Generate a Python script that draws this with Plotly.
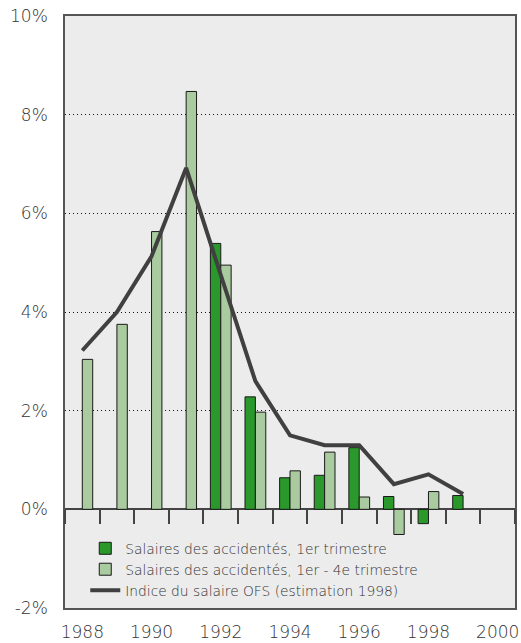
import plotly.graph_objects as go

years = [1988, 1989, 1990, 1991, 1992, 1993, 1994, 1995, 1996, 1997, 1998, 1999]
q1 = [None, None, None, None, 5.39, 2.28, 0.64, 0.69, 1.25, 0.26, -0.29, 0.28]
q1_4 = [3.04, 3.75, 5.63, 8.47, 4.95, 1.97, 0.78, 1.16, 0.25, -0.51, 0.36, None]
ofs = [3.22, 4.0, 5.13, 6.92, 4.75, 2.6, 1.5, 1.3, 1.3, 0.51, 0.71, 0.31]

names = ["Salaires des accidentés, 1er trimestre",
         "Salaires des accidentés, 1er - 4e trimestre",
         "Indice du salaire OFS (estimation 1998)"]

y_ticks = [-2, 0, 2, 4, 6, 8, 10]
y_ticklabels = ["-2%", "0%", "2%", "4%", "6%", "8%", "10%"]
x_ticks = [1988, 1990, 1992, 1994, 1996, 1998, 2000]
x_ticklabels = ["1988", "1990", "1992", "1994", "1996", "1998", "2000"]
x_range = [1987.5, 2000.5]
y_range = [-2, 10]
minor_ticks = [x_range[0] + i for i in range(int(x_range[1] - x_range[0]) + 1)]

FONT = "DejaVu Sans"
TXT = "#333333"

fig = go.Figure()
fig.add_trace(go.Bar(x=years, y=q1, name=names[0],
                     marker=dict(color="#2a982a", line=dict(color="#1a1a1a", width=1))))
fig.add_trace(go.Bar(x=years, y=q1_4, name=names[1],
                     marker=dict(color="#aacb9f", line=dict(color="#1a1a1a", width=1))))
fig.add_trace(go.Scatter(x=years, y=ofs, name=names[2], mode="lines",
                         line=dict(color="#404040", width=4)))

zero_pos = (0 - y_range[0]) / (y_range[1] - y_range[0])

fig.update_layout(
    width=521, height=643,
    margin=dict(l=65, r=6, t=16, b=35),
    paper_bgcolor="white",
    plot_bgcolor="#ececec",
    barmode="group", bargap=0.4, bargroupgap=0,
    font=dict(family=FONT, color=TXT, weight=200),
    showlegend=True,
    legend=dict(x=0.045, y=0.127, xanchor="left", yanchor="top",
                bgcolor="rgba(0,0,0,0)", font=dict(size=13.8, color=TXT, weight=200),
                itemwidth=30, tracegroupgap=0),
    xaxis=dict(range=x_range, tickvals=x_ticks, ticktext=x_ticklabels,
               ticks="outside", ticklen=8, tickcolor="rgba(0,0,0,0)",
               tickfont=dict(size=17, weight=200), showgrid=False, zeroline=False,
               automargin=False,
               showline=True, linecolor="#555555", linewidth=1.5, mirror=True),
    xaxis2=dict(range=x_range, overlaying="x", anchor="free", position=zero_pos,
                side="bottom", tickvals=minor_ticks, showticklabels=False,
                ticks="outside", ticklen=14, tickwidth=1.5, tickcolor="#444444",
                showgrid=False, zeroline=False, showline=False, automargin=False),
    yaxis=dict(range=y_range, tickvals=y_ticks, ticktext=y_ticklabels,
               ticks="outside", ticklen=12, tickcolor="rgba(0,0,0,0)",
               tickfont=dict(size=17, weight=200), showgrid=True, gridcolor="#111111",
               griddash="1px,3px", gridwidth=1, automargin=False,
               zeroline=True, zerolinecolor="#444444", zerolinewidth=2,
               showline=True, linecolor="#555555", linewidth=1.5, mirror=True),
)
# invisible trace to activate xaxis2
fig.add_trace(go.Scatter(x=[x_range[0]], y=[0], xaxis="x2", mode="markers",
                         marker=dict(opacity=0), showlegend=False, hoverinfo="skip"))

fig.write_html("out.html", config={"displayModeBar": False},
               post_script="document.body.style.margin='0';document.body.style.overflow='hidden';")
